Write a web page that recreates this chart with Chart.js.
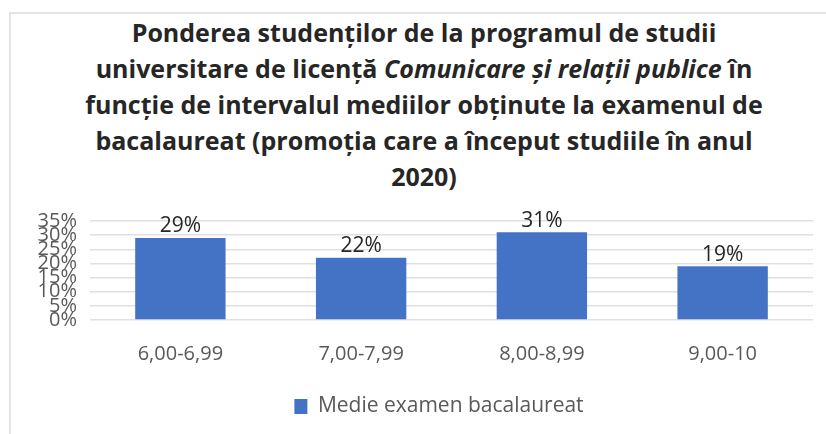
<!DOCTYPE html>
<html>
<head>
<meta charset="utf-8">
<script src="https://cdn.jsdelivr.net/npm/chart.js@4/dist/chart.umd.min.js"></script>
<style>
  body { margin: 0; width: 826px; height: 434px; overflow: hidden; background: #fff; position: relative; }
  .frame { position: absolute; left: 9px; top: 12px; width: 900px; height: 500px;
    border-left: 2px solid #e4e4e4; border-top: 2px solid #e4e4e4; }
  .title { position: absolute; left: 9px; top: 14px; width: 830px; text-align: center;
    font: bold 25px "Open Sans", sans-serif; line-height: 36px; color: #262626; white-space: nowrap; }
  .title em { font-style: italic; }
  #chart { position: absolute; left: 9px; top: 196px; }
</style>
</head>
<body>
<div class="frame"></div>
<div class="title">Ponderea studenților de la programul de studii<br>universitare de licență <em>Comunicare și relații publice</em> în<br>funcție de intervalul mediilor obținute la examenul de<br>bacalaureat (promoția care a început studiile în anul<br>2020)</div>
<canvas id="chart" width="830" height="238"></canvas>
<script>
const intervals = ['6,00-6,99', '7,00-7,99', '8,00-8,99', '9,00-10'];
const shares = [29, 22, 31, 19];
const seriesName = 'Medie examen bacalaureat';
const yTicks = [0, 5, 10, 15, 20, 25, 30, 35];

const grey = '#595959';
const font = 'Open Sans';

// percent labels above each bar
const barLabels = {
  id: 'barLabels',
  afterDatasetsDraw(chart) {
    const ctx = chart.ctx;
    const meta = chart.getDatasetMeta(0);
    ctx.save();
    ctx.font = '21px "Open Sans"';
    ctx.fillStyle = '#262626';
    ctx.textAlign = 'center';
    ctx.textBaseline = 'bottom';
    meta.data.forEach((bar, i) => {
      ctx.fillText(shares[i] + '%', bar.x, bar.y - 1);
    });
    ctx.restore();
  }
};

// excel puts the legend a bit right of the canvas centre
const legendShift = {
  id: 'legendShift',
  afterLayout(chart) {
    chart.legend.left += 15;
    chart.legend.right += 15;
  }
};

new Chart(document.getElementById('chart'), {
  type: 'bar',
  data: {
    labels: intervals,
    datasets: [{
      label: seriesName,
      data: shares,
      backgroundColor: '#4472C4',
      categoryPercentage: 0.5,
      barPercentage: 1
    }]
  },
  options: {
    responsive: false,
    animation: false,
    layout: { padding: { top: 23, left: 26, right: 26, bottom: 7 } },
    scales: {
      x: {
        grid: { display: false },
        border: { display: false },
        ticks: { color: grey, font: { family: font, size: 20 }, padding: 14 },
        afterFit: (s) => { s.height = 68; }
      },
      y: {
        min: 0,
        max: 35,
        afterBuildTicks: (s) => { s.ticks = yTicks.map(v => ({ value: v })); },
        grid: { color: '#e0e0e0', lineWidth: 1.5, drawTicks: false },
        border: { display: false },
        ticks: {
          autoSkip: false,
          color: grey,
          font: { family: font, size: 20 },
          padding: 13,
          callback: (v) => v + '%'
        },
        afterFit: (s) => { s.width = 55; }
      }
    },
    plugins: {
      title: { display: false },
      tooltip: { enabled: false },
      legend: {
        position: 'bottom',
        labels: {
          color: grey,
          font: { family: font, size: 21 },
          boxWidth: 13,
          boxHeight: 15,
          padding: 8
        }
      }
    }
  },
  plugins: [barLabels, legendShift]
});
</script>
</body>
</html>
